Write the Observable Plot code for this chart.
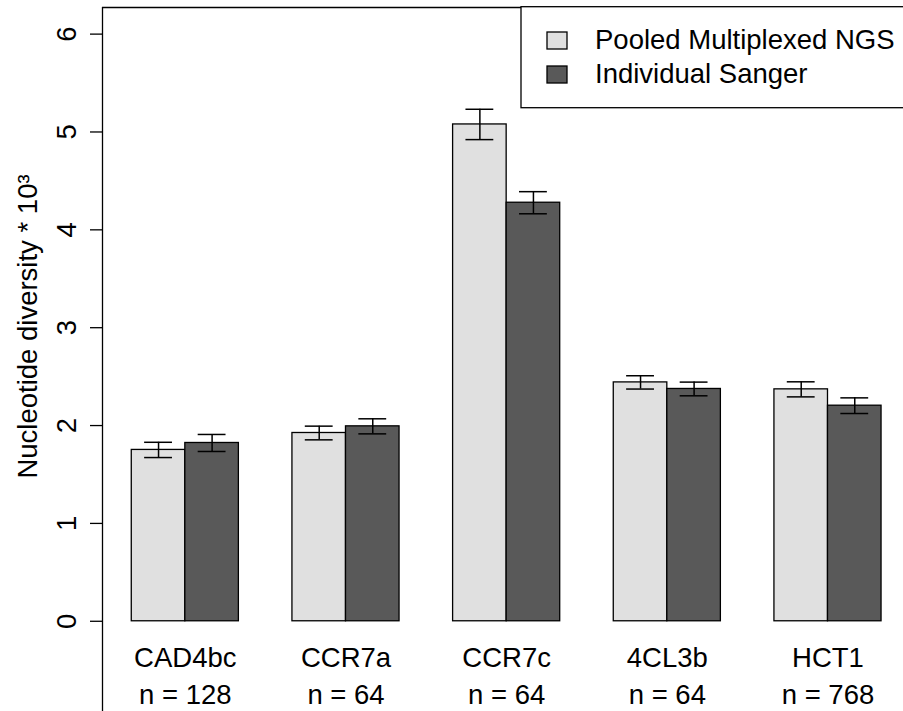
<!DOCTYPE html>
<html><head><meta charset="utf-8">
<script src="https://cdn.jsdelivr.net/npm/d3@7"></script>
<script src="https://cdn.jsdelivr.net/npm/@observablehq/plot@0.6"></script>
<style>
html,body{margin:0;padding:0;background:#fff;}
#chart{position:relative;width:903px;height:711px;overflow:hidden;}
</style></head><body><div id="chart"></div>
<script>
const genes = ["CAD4bc", "CCR7a", "CCR7c", "4CL3b", "HCT1"];
const sampleSizes = ["n = 128", "n = 64", "n = 64", "n = 64", "n = 768"];
const methods = ["Pooled Multiplexed NGS", "Individual Sanger"];
const ngsMean = [1.751, 1.924, 5.077, 2.441, 2.370];
const ngsErr = [0.078, 0.070, 0.155, 0.068, 0.077];
const sangerMean = [1.822, 1.992, 4.277, 2.374, 2.203];
const sangerErr = [0.087, 0.077, 0.113, 0.070, 0.080];
const yTicks = [0, 1, 2, 3, 4, 5, 6];
const yLabel = "Nucleotide diversity * 10³";
const colors = ["#e0e0e0", "#595959"];

// R-style grouped barplot layout: one bar-width gap before each group
const groupStart = i => 3 * i + 1;
const rows = genes.flatMap((g, i) => [
  {gene: g, method: methods[0], value: ngsMean[i], err: ngsErr[i], x1: groupStart(i), x2: groupStart(i) + 1},
  {gene: g, method: methods[1], value: sangerMean[i], err: sangerErr[i], x1: groupStart(i) + 1, x2: groupStart(i) + 2}
]);
rows.forEach(r => { r.xc = (r.x1 + r.x2) / 2; r.lo = r.value - r.err; r.hi = r.value + r.err; });

const xDomain = [0.4535, 15.41];
const yDomain = [-0.922, 6.272];
const capHalf = 0.26;
const FS = 27.5;
const FONT = "'Liberation Sans', Arial, Helvetica, sans-serif";

const plot = Plot.plot({
  width: 903, height: 711,
  marginLeft: 102, marginRight: 0, marginTop: 7, marginBottom: 0,
  style: {fontFamily: FONT, fontSize: FS + "px", color: "black", background: "white"},
  x: {type: "linear", domain: xDomain, axis: null},
  y: {type: "linear", domain: yDomain, axis: null},
  color: {domain: methods, range: colors},
  marks: [
    Plot.rectY(rows, {x1: "x1", x2: "x2", y1: 0, y2: "value", fill: "method", stroke: "black", strokeWidth: 1.3}),
    Plot.ruleX(rows, {x: "xc", y1: "lo", y2: "hi", stroke: "black", strokeWidth: 1.5}),
    Plot.ruleY(rows, {y: "hi", x1: d => d.xc - capHalf, x2: d => d.xc + capHalf, stroke: "black", strokeWidth: 1.5}),
    Plot.ruleY(rows, {y: "lo", x1: d => d.xc - capHalf, x2: d => d.xc + capHalf, stroke: "black", strokeWidth: 1.5}),
    Plot.axisY({ticks: yTicks, tickSize: 12, tickPadding: 15, tickRotate: -90, tickFormat: d => String(d), strokeWidth: 1.3, fontSize: FS, label: null}),
    Plot.ruleX([xDomain[0]], {stroke: "black", strokeWidth: 1.3}),
    Plot.ruleY([yDomain[1]], {stroke: "black", strokeWidth: 1.3}),
    Plot.text(genes, {x: (d, i) => groupStart(i) + 1, y: 0, dy: 46, lineAnchor: "bottom", text: d => d, fontSize: FS, fill: "black"}),
    Plot.text(sampleSizes, {x: (d, i) => groupStart(i) + 1, y: 0, dy: 82.3, lineAnchor: "bottom", text: d => d, fontSize: FS, fill: "black"}),
    Plot.text([yLabel], {frameAnchor: "left", rotate: -90, dx: -65.5, dy: -33, textAnchor: "middle", lineAnchor: "bottom", text: d => d, fontSize: FS, fill: "black"})
  ]
});

// in-plot legend (top right, clipped by the frame like the original)
const svg = d3.select(plot);
const lg = svg.append("g").attr("font-family", FONT).attr("font-size", FS).attr("text-anchor", "start");
lg.append("rect").attr("x", 521).attr("y", 6.7).attr("width", 420).attr("height", 101)
  .attr("fill", "white").attr("stroke", "black").attr("stroke-width", 1.3);
methods.forEach((m, i) => {
  lg.append("rect").attr("x", 547).attr("y", 32 + 34 * i).attr("width", 20).attr("height", 17)
    .attr("fill", colors[i]).attr("stroke", "black").attr("stroke-width", 1.3);
  lg.append("text").attr("x", 595).attr("y", 49.3 + 34 * i).attr("fill", "black").text(m);
});

document.getElementById("chart").appendChild(plot);
</script></body></html>
